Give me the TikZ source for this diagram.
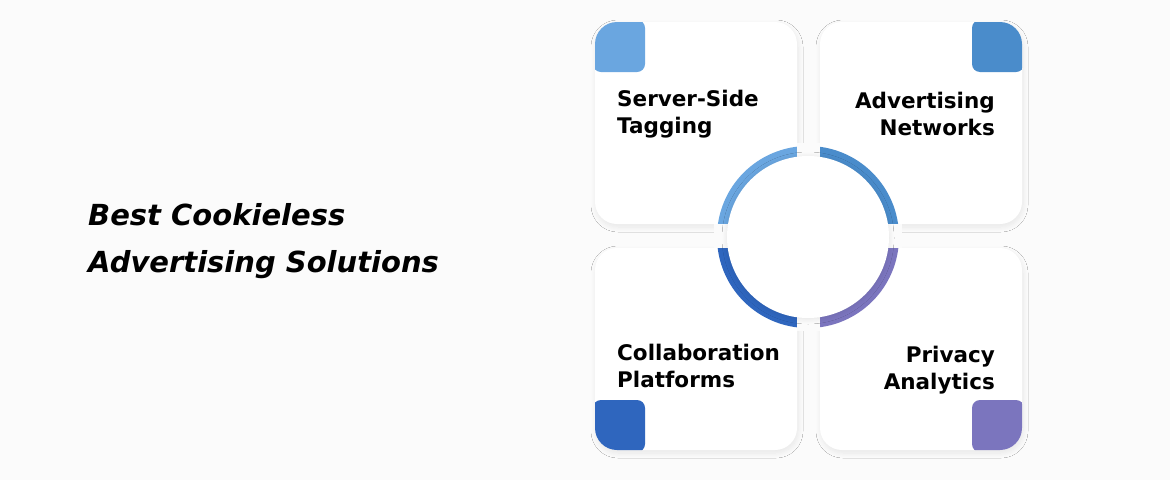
\documentclass[tikz,border=0pt]{standalone}
\usepackage{fontspec}
\setmainfont{DejaVu Sans}
\usetikzlibrary{shadows.blur}
\definecolor{bg}{HTML}{FBFBFB}
\definecolor{cA}{HTML}{6AA6E0}
\definecolor{cB}{HTML}{4A8CCB}
\definecolor{cC}{HTML}{2F66BE}
\definecolor{cD}{HTML}{7B75BE}
\begin{document}
\begin{tikzpicture}[x=1pt,y=-1pt,
  card/.style={fill=white,rounded corners=22pt,blur shadow={shadow blur steps=10,shadow blur radius=5pt,shadow xshift=1pt,shadow yshift=-3pt,shadow opacity=8}},
  lab/.style={font=\bfseries\fontsize{21.5}{27}\selectfont,inner sep=0pt},
  ttl/.style={font=\bfseries\itshape\fontsize{29}{47}\selectfont,inner sep=0pt,align=left,anchor=west}]
\fill[bg] (0,0) rectangle (1170,480);
\useasboundingbox (0,0) rectangle (1170,480);
% cards
\foreach \x/\y/\c/\cx/\cy in {595/22/cA/0/0, 820/22/cB/1/0, 595/248/cC/0/1, 820/248/cD/1/1}{
  \path[card] (\x,\y) rectangle ++(202,202);
  \begin{scope}
    \clip[rounded corners=22pt] (\x,\y) rectangle ++(202,202);
    \fill[\c,rounded corners=8pt] ({\x+\cx*154-2},{\y+\cy*154-2}) rectangle ++(52,52);
  \end{scope}
}
% ring
\fill[cA] (808,237) -- ++(180:91) arc[start angle=180,end angle=270,radius=91] -- cycle;
\fill[cB] (808,237) -- ++(270:91) arc[start angle=270,end angle=360,radius=91] -- cycle;
\fill[cD] (808,237) -- ++(0:91) arc[start angle=0,end angle=90,radius=91] -- cycle;
\fill[cC] (808,237) -- ++(90:91) arc[start angle=90,end angle=180,radius=91] -- cycle;
\fill[bg] (797,143) rectangle (820,331);
\fill[bg] (714,224) rectangle (902,248);
\node[circle,fill=white,minimum size=162pt,inner sep=0pt,blur shadow={shadow blur steps=8,shadow blur radius=5pt,shadow xshift=0pt,shadow yshift=-1pt,shadow opacity=10}] (c) at (808,237) {};
% labels
\node[lab,anchor=west,align=left] (a) at (617,114) {Server-Side\\Tagging};
\node[lab,anchor=east,align=right] (b) at (995,114) {Advertising\\Networks};
\node[lab,anchor=west,align=left] (d) at (617,366) {Collaboration\\Platforms};
\node[lab,anchor=east,align=right] (e) at (995,370) {Privacy\\Analytics};
\node[ttl] (t) at (88,241) {Best Cookieless\\Advertising Solutions};
\end{tikzpicture}
\end{document}
